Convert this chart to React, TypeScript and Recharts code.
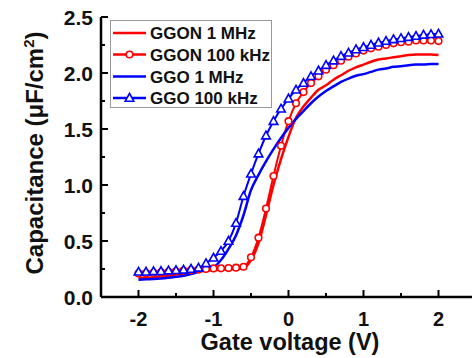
import React from 'react';
import { ComposedChart, Line, XAxis, YAxis, Legend } from 'recharts';

const voltage = [
  -2.0, -1.9, -1.8, -1.7, -1.6, -1.5, -1.4, -1.3, -1.2, -1.1, -1.0,
  -0.9, -0.8, -0.7, -0.6, -0.5, -0.4, -0.3, -0.2, -0.1, 0.0,
  0.1, 0.2, 0.3, 0.4, 0.5, 0.6, 0.7, 0.8, 0.9, 1.0,
  1.1, 1.2, 1.3, 1.4, 1.5, 1.6, 1.7, 1.8, 1.9, 2.0,
];

const ggon1MHz = [
  0.17, 0.172, 0.175, 0.18, 0.19, 0.2, 0.21, 0.22, 0.228, 0.235, 0.24,
  0.245, 0.248, 0.25, 0.26, 0.33, 0.48, 0.73, 1.0, 1.23, 1.43,
  1.6, 1.7, 1.78, 1.85, 1.89, 1.94, 1.98, 2.02, 2.05, 2.075,
  2.1, 2.12, 2.13, 2.14, 2.15, 2.16, 2.165, 2.165, 2.165, 2.16,
];

const ggon100kHz = [
  0.21, 0.212, 0.215, 0.22, 0.225, 0.23, 0.235, 0.24, 0.245, 0.25, 0.255,
  0.256, 0.258, 0.262, 0.27, 0.355, 0.53, 0.79, 1.08, 1.35, 1.57,
  1.73, 1.83, 1.91, 1.97, 2.03, 2.07, 2.11, 2.145, 2.175, 2.2,
  2.22, 2.235, 2.25, 2.265, 2.275, 2.28, 2.29, 2.29, 2.29, 2.285,
];

const ggo1MHz = [
  0.155, 0.158, 0.16, 0.165, 0.172, 0.18, 0.19, 0.205, 0.225, 0.245, 0.265,
  0.33, 0.43, 0.55, 0.73, 0.955, 1.09, 1.21, 1.32, 1.42, 1.51,
  1.59, 1.66, 1.73, 1.79, 1.84, 1.88, 1.92, 1.95, 1.975, 1.99,
  2.01, 2.03, 2.04, 2.055, 2.06, 2.07, 2.075, 2.075, 2.08, 2.08,
];

const ggo100kHz = [
  0.225, 0.225, 0.228, 0.23, 0.235, 0.238, 0.242, 0.25, 0.26, 0.3, 0.35,
  0.41, 0.5, 0.66, 0.9, 1.1, 1.28, 1.44, 1.57, 1.68, 1.77,
  1.85, 1.91, 1.97, 2.02, 2.07, 2.11, 2.15, 2.18, 2.21, 2.23,
  2.25, 2.27, 2.285, 2.3, 2.31, 2.32, 2.33, 2.34, 2.345, 2.35,
];

const xTicks = [-2, -1.5, -1, -0.5, 0, 0.5, 1, 1.5, 2];
const yTicks = [0, 0.25, 0.5, 0.75, 1, 1.25, 1.5, 1.75, 2, 2.25, 2.5];

const seriesNames = ['GGON 1 MHz', 'GGON 100 kHz', 'GGO 1 MHz', 'GGO 100 kHz'];

const data = voltage.map((v, i) => ({
  v,
  ggon1: ggon1MHz[i],
  ggon100: ggon100kHz[i],
  ggo1: ggo1MHz[i],
  ggo100: ggo100kHz[i],
}));

const RED = '#ff0000';
const BLUE = '#0000ff';
const FONT = '"Liberation Sans", Arial, Helvetica, sans-serif';

const XTick = (props: any) => {
  const { x, y, payload } = props;
  const v = payload.value;
  const major = Number.isInteger(v);
  return (
    <g>
      <line x1={x} x2={x} y1={y} y2={y - (major ? 7 : 4)} stroke="#000" strokeWidth={2} />
      {major && (
        <text x={x} y={y + 29} textAnchor="middle" fontFamily={FONT} fontWeight="bold" fontSize={20} fill="#111">
          {String(v)}
        </text>
      )}
    </g>
  );
};

const YTick = (props: any) => {
  const { x, y, payload } = props;
  const v = payload.value;
  const major = Math.abs(v * 2 - Math.round(v * 2)) < 1e-6;
  return (
    <g>
      <line x1={x} x2={x + (major ? 7 : 4)} y1={y} y2={y} stroke="#000" strokeWidth={2} />
      {major && (
        <text x={x - 8} y={y + 7.5} textAnchor="end" fontFamily={FONT} fontWeight="bold" fontSize={21} fill="#111">
          {v.toFixed(1)}
        </text>
      )}
    </g>
  );
};

const RTick = (props: any) => {
  const { x, y, payload } = props;
  const v = payload.value;
  const major = Math.abs(v * 2 - Math.round(v * 2)) < 1e-6;
  return <line x1={x} x2={x - (major ? 7 : 4)} y1={y} y2={y} stroke="#000" strokeWidth={2} />;
};

const TriangleDot = (props: any) => {
  const { cx, cy, index } = props;
  if (cx == null || cy == null) return <g key={index} />;
  const pts = `${cx},${cy - 4.5} ${cx - 4.3},${cy + 3.2} ${cx + 4.3},${cy + 3.2}`;
  return <polygon key={index} points={pts} fill="#fff" stroke={BLUE} strokeWidth={1.6} />;
};

const LegendBox = () => {
  const rows = [
    { color: RED, marker: 'none' },
    { color: RED, marker: 'circle' },
    { color: BLUE, marker: 'none' },
    { color: BLUE, marker: 'triangle' },
  ];
  const ys = [13, 34.5, 56.5, 78];
  return (
    <svg width={162} height={88} style={{ display: 'block' }}>
      <rect x={0.5} y={0.5} width={161} height={87} fill="#fff" stroke="#999" strokeWidth={1} />
      {rows.map((r, i) => {
        const y = ys[i];
        return (
          <g key={i}>
            <line x1={3} x2={36} y1={y} y2={y} stroke={r.color} strokeWidth={2.5} />
            {r.marker === 'circle' && (
              <circle cx={19.5} cy={y} r={3.3} fill="#fff" stroke={r.color} strokeWidth={1.6} />
            )}
            {r.marker === 'triangle' && (
              <polygon
                points={`19.5,${y - 4.5} 15.2,${y + 3.2} 23.8,${y + 3.2}`}
                fill="#fff"
                stroke={r.color}
                strokeWidth={1.6}
              />
            )}
            <text x={40} y={y + 6} fontFamily={FONT} fontWeight="bold" fontSize={17} fill="#111">
              {seriesNames[i]}
            </text>
          </g>
        );
      })}
    </svg>
  );
};

export default function App() {
  return (
    <div style={{ position: 'absolute', left: 0, top: 0, width: 472, height: 358, overflow: 'hidden', background: '#fff' }}>
      <ComposedChart width={476} height={358} data={data} margin={{ top: 17, right: 0, bottom: 0, left: 0 }}>
        <XAxis
          xAxisId="b"
          dataKey="v"
          type="number"
          domain={[-2.5, 2.5]}
          ticks={xTicks}
          interval={0}
          height={61}
          tickSize={0}
          tickMargin={0}
          tickLine={false}
          axisLine={{ stroke: '#000', strokeWidth: 2.5 }}
          tick={<XTick />}
          label={{
            content: () => (
              <text x={290} y={350} textAnchor="middle" fontFamily={FONT} fontWeight="bold" fontSize={23.5} fill="#111">
                Gate voltage (V)
              </text>
            ),
          }}
        />
        <XAxis
          xAxisId="t"
          orientation="top"
          type="number"
          domain={[-2.5, 2.5]}
          height={0}
          tick={false}
          tickLine={false}
          axisLine={{ stroke: '#000', strokeWidth: 2.5 }}
        />
        <YAxis
          yAxisId="l"
          type="number"
          domain={[0, 2.5]}
          ticks={yTicks}
          interval={0}
          width={101}
          tickSize={0}
          tickMargin={0}
          tickLine={false}
          axisLine={{ stroke: '#000', strokeWidth: 2.5 }}
          tick={<YTick />}
          label={{
            content: () => (
              <text
                x={43}
                y={153}
                transform="rotate(-90, 43, 153)"
                textAnchor="middle"
                fontFamily={FONT}
                fontWeight="bold"
                fontSize={24}
                fill="#111"
              >
                Capacitance (μF/cm
                <tspan dy={-9} fontSize={15}>2</tspan>
                <tspan dy={9}>)</tspan>
              </text>
            ),
          }}
        />
        <YAxis
          yAxisId="r"
          orientation="right"
          type="number"
          domain={[0, 2.5]}
          ticks={yTicks}
          interval={0}
          width={0}
          tickSize={0}
          tickMargin={0}
          tickLine={false}
          axisLine={{ stroke: '#000', strokeWidth: 2.5 }}
          tick={<RTick />}
        />
        <Legend
          layout="horizontal"
          verticalAlign="middle"
          align="center"
          width={162}
          height={88}
          wrapperStyle={{ left: 110, top: 20, width: 162, height: 88 }}
          content={() => <LegendBox />}
        />
        <Line
          xAxisId="b"
          yAxisId="l"
          type="monotone"
          dataKey="ggon1"
          name={seriesNames[0]}
          stroke={RED}
          strokeWidth={2.5}
          dot={false}
          isAnimationActive={false}
        />
        <Line
          xAxisId="b"
          yAxisId="l"
          type="monotone"
          dataKey="ggon100"
          name={seriesNames[1]}
          stroke={RED}
          strokeWidth={2}
          dot={{ r: 3.3, fill: '#fff', stroke: RED, strokeWidth: 1.6 }}
          isAnimationActive={false}
        />
        <Line
          xAxisId="b"
          yAxisId="l"
          type="monotone"
          dataKey="ggo1"
          name={seriesNames[2]}
          stroke={BLUE}
          strokeWidth={2.5}
          dot={false}
          isAnimationActive={false}
        />
        <Line
          xAxisId="b"
          yAxisId="l"
          type="monotone"
          dataKey="ggo100"
          name={seriesNames[3]}
          stroke={BLUE}
          strokeWidth={2}
          dot={(p: any) => <TriangleDot key={p.index} {...p} />}
          isAnimationActive={false}
        />
      </ComposedChart>
    </div>
  );
}
